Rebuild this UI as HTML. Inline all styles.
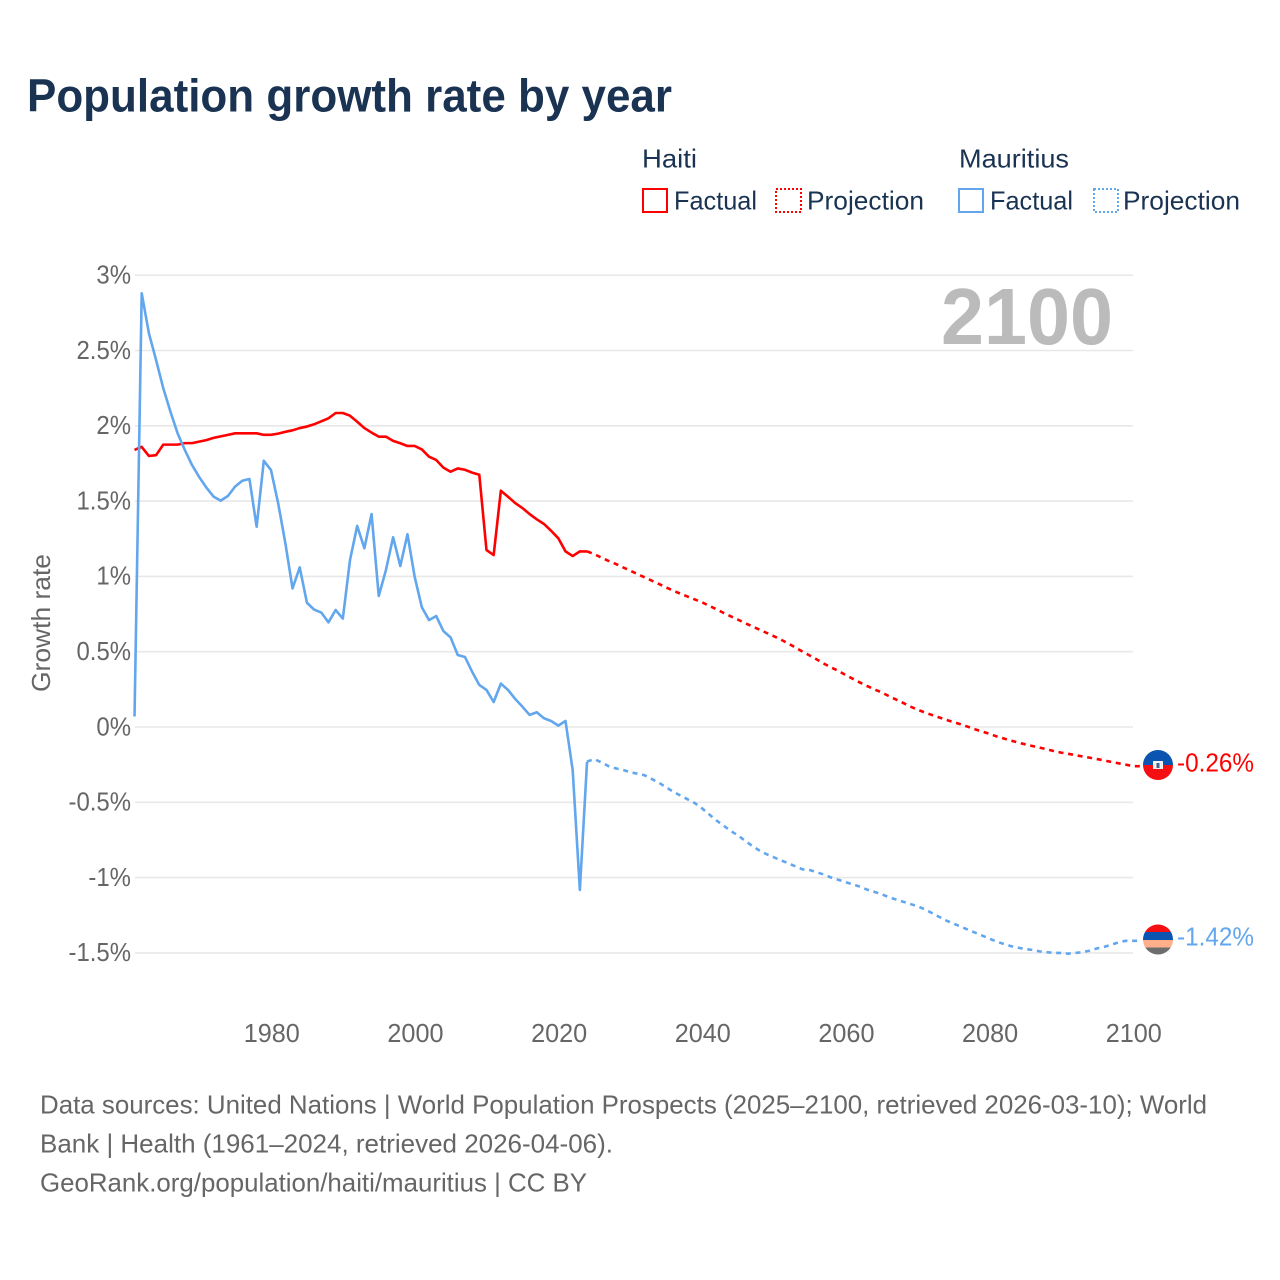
<!DOCTYPE html>
<html lang="en">
<head>
<meta charset="utf-8">
<title>Population growth rate by year</title>
<style>
html,body{margin:0;padding:0;background:#fff;}
svg{display:block;font-family:"Liberation Sans",sans-serif;}
</style>
</head>
<body>
<svg id="chart" xmlns="http://www.w3.org/2000/svg" width="1280" height="1280" viewBox="0 0 1280 1280">
  <rect x="0" y="0" width="1280" height="1280" fill="#fff"/>
  <text x="27" y="111.5" font-size="46" font-weight="700" fill="#1a3352" textLength="645" lengthAdjust="spacingAndGlyphs">Population growth rate by year</text>

  <g font-size="26" fill="#1a3352">
    <text x="642" y="167.5" textLength="55" lengthAdjust="spacingAndGlyphs">Haiti</text>
    <text x="959" y="167.5" textLength="110" lengthAdjust="spacingAndGlyphs">Mauritius</text>
    <rect x="643" y="189" width="24" height="23" fill="none" stroke="#ff0000" stroke-width="2"/>
    <text x="674" y="209.5" textLength="83" lengthAdjust="spacingAndGlyphs">Factual</text>
    <rect x="776" y="189" width="25" height="23" fill="none" stroke="#ff0000" stroke-width="2" stroke-dasharray="2 2"/>
    <text x="807" y="209.5" textLength="117" lengthAdjust="spacingAndGlyphs">Projection</text>
    <rect x="959" y="189" width="24" height="23" fill="none" stroke="#62a6ee" stroke-width="2"/>
    <text x="990" y="209.5" textLength="83" lengthAdjust="spacingAndGlyphs">Factual</text>
    <rect x="1094" y="189" width="24" height="23" fill="none" stroke="#62a6ee" stroke-width="2" stroke-dasharray="2 2"/>
    <text x="1123" y="209.5" textLength="117" lengthAdjust="spacingAndGlyphs">Projection</text>
  </g>

  <g id="grid"></g>
  <g id="yticks" font-size="26" fill="#666" text-anchor="end"></g>
  <g id="xticks" font-size="26" fill="#666" text-anchor="middle"></g>
  <text transform="translate(50,692) rotate(-90)" font-size="26" fill="#666" textLength="138" lengthAdjust="spacingAndGlyphs">Growth rate</text>
  <text x="941" y="344" font-size="80" font-weight="700" fill="#bbbbbb" textLength="172" lengthAdjust="spacingAndGlyphs">2100</text>

  <g id="series"></g>

  <defs>
    <clipPath id="clip-haiti"><circle cx="1158" cy="765" r="15"/></clipPath>
    <clipPath id="clip-mauritius"><circle cx="1158" cy="939.5" r="15"/></clipPath>
  </defs>
  <g id="flag-haiti" clip-path="url(#clip-haiti)">
    <rect x="1143" y="750" width="30" height="15" fill="#0b55b0"/>
    <rect x="1143" y="765" width="30" height="15" fill="#f60f12"/>
    <rect x="1153" y="761" width="10" height="8" fill="#f2f2f2"/>
    <rect x="1156.5" y="763" width="3" height="5" fill="#44628a"/>
  </g>
  <g id="flag-mauritius" clip-path="url(#clip-mauritius)">
    <rect x="1143" y="924" width="30" height="8" fill="#f60f12"/>
    <rect x="1143" y="932" width="30" height="8" fill="#0b55b0"/>
    <rect x="1143" y="940" width="30" height="7.5" fill="#ffb08a"/>
    <rect x="1143" y="947.5" width="30" height="8" fill="#6d6d6d"/>
  </g>
  <text x="1177" y="771.5" font-size="26" fill="#ff0000" textLength="77" lengthAdjust="spacingAndGlyphs">-0.26%</text>
  <text x="1177" y="945.5" font-size="26" fill="#62a6ee" textLength="77" lengthAdjust="spacingAndGlyphs">-1.42%</text>

  <g font-size="26" fill="#666">
    <text x="40" y="1113.5" textLength="1167" lengthAdjust="spacingAndGlyphs">Data sources: United Nations | World Population Prospects (2025–2100, retrieved 2026-03-10); World</text>
    <text x="40" y="1152.5" textLength="573" lengthAdjust="spacingAndGlyphs">Bank | Health (1961–2024, retrieved 2026-04-06).</text>
    <text x="40" y="1191.5" textLength="547" lengthAdjust="spacingAndGlyphs">GeoRank.org/population/haiti/mauritius | CC BY</text>
  </g>
</svg>
<script>
const firstYear = 1961;
const yTicks = [3, 2.5, 2, 1.5, 1, 0.5, 0, -0.5, -1, -1.5];
const yTickLabels = ["3%", "2.5%", "2%", "1.5%", "1%", "0.5%", "0%", "-0.5%", "-1%", "-1.5%"];
const xTicks = [1980, 2000, 2020, 2040, 2060, 2080, 2100];
const haitiFactual = [
  1.84,1.86,1.80,1.805,1.875,1.875,1.875,1.885,1.885,1.895,
  1.905,1.92,1.93,1.94,1.95,1.95,1.95,1.95,1.94,1.94,
  1.948,1.96,1.97,1.985,1.995,2.01,2.03,2.05,2.085,2.085,
  2.067,2.027,1.985,1.955,1.928,1.928,1.90,1.884,1.866,1.866,
  1.843,1.795,1.773,1.722,1.695,1.717,1.708,1.689,1.675,1.175,
  1.142,1.569,1.529,1.487,1.454,1.414,1.379,1.348,1.303,1.253,
  1.166,1.135,1.166,1.166
];
const haitiProjection = [
  1.148,1.125,1.103,1.083,1.06,1.038,1.016,0.994,0.972,0.95,
  0.927,0.905,0.885,0.866,0.847,0.828,0.805,0.782,0.758,0.735,
  0.713,0.69,0.668,0.647,0.625,0.603,0.58,0.555,0.528,0.5,
  0.475,0.448,0.42,0.395,0.372,0.345,0.32,0.295,0.272,0.25,
  0.23,0.206,0.183,0.16,0.136,0.115,0.097,0.08,0.064,0.048,
  0.033,0.018,0.002,-0.015,-0.03,-0.045,-0.062,-0.076,-0.09,-0.103,
  -0.115,-0.126,-0.137,-0.148,-0.16,-0.17,-0.178,-0.187,-0.196,-0.204,
  -0.213,-0.222,-0.232,-0.241,-0.25,-0.26
];
const mauritiusFactual = [
  0.07,2.88,2.615,2.437,2.25,2.094,1.95,1.84,1.74,1.66,
  1.59,1.53,1.503,1.534,1.596,1.635,1.647,1.33,1.768,1.706,
  1.485,1.22,0.92,1.06,0.825,0.78,0.76,0.695,0.777,0.72,
  1.109,1.335,1.187,1.414,0.87,1.042,1.26,1.069,1.28,0.998,
  0.795,0.71,0.737,0.637,0.595,0.478,0.465,0.367,0.279,0.246,
  0.166,0.288,0.246,0.186,0.135,0.08,0.098,0.058,0.04,0.009,
  0.04,-0.286,-1.082,-0.23
];
const mauritiusProjection = [
  -0.213,-0.235,-0.26,-0.275,-0.285,-0.30,-0.31,-0.32,-0.345,-0.37,
  -0.40,-0.43,-0.455,-0.48,-0.505,-0.54,-0.58,-0.62,-0.655,-0.69,
  -0.72,-0.755,-0.79,-0.82,-0.845,-0.865,-0.885,-0.905,-0.925,-0.945,
  -0.95,-0.965,-0.98,-1.0,-1.015,-1.03,-1.045,-1.06,-1.08,-1.095,
  -1.11,-1.13,-1.145,-1.16,-1.175,-1.19,-1.21,-1.235,-1.26,-1.285,
  -1.305,-1.325,-1.345,-1.365,-1.385,-1.405,-1.425,-1.44,-1.455,-1.465,
  -1.475,-1.48,-1.49,-1.495,-1.5,-1.5,-1.505,-1.5,-1.495,-1.485,
  -1.47,-1.46,-1.445,-1.43,-1.42,-1.42
];

const NS = "http://www.w3.org/2000/svg";
function xScale(year) { return 141.7 + (year - 1962) * 7.183; }
function yScale(value) { return 727 - value * 150.6; }

function make(tag, parent) {
  const el = document.createElementNS(NS, tag);
  parent.appendChild(el);
  return el;
}

function linePath(startYear, values) {
  return values.map(function (v, i) {
    return (i ? "L" : "M") + xScale(startYear + i).toFixed(2) + " " + yScale(v).toFixed(2);
  }).join(" ");
}

const grid = document.getElementById("grid");
const yTickGroup = document.getElementById("yticks");
const xTickGroup = document.getElementById("xticks");
const seriesGroup = document.getElementById("series");

yTicks.forEach(function (t, i) {
  const line = make("line", grid);
  
  
  line.setAttribute("x1", 135);
  line.setAttribute("x2", xScale(2100));
  line.setAttribute("y1", yScale(t));
  line.setAttribute("y2", yScale(t));
  line.setAttribute("stroke", "#e8e8e8");
  line.setAttribute("stroke-width", 1.6);

  const label = make("text", yTickGroup);
  
  
  label.setAttribute("x", 131);
  label.setAttribute("y", yScale(t) + 8.3);
  label.textContent = yTickLabels[i];
  label.setAttribute("textLength", (label.getComputedTextLength() * 0.92).toFixed(1));
  label.setAttribute("lengthAdjust", "spacingAndGlyphs");
});

xTicks.forEach(function (t) {
  const label = make("text", xTickGroup);
  
  
  label.setAttribute("x", xScale(t) + 0.8);
  label.setAttribute("y", 1042);
  label.textContent = String(t);
  label.setAttribute("textLength", (label.getComputedTextLength() * 0.97).toFixed(1));
  label.setAttribute("lengthAdjust", "spacingAndGlyphs");
});

function drawSeries(factual, projection, color) {
  const solid = make("path", seriesGroup);
  
  
  solid.setAttribute("d", linePath(firstYear, factual));
  solid.setAttribute("fill", "none");
  solid.setAttribute("stroke", color);
  solid.setAttribute("stroke-width", 2.6);
  solid.setAttribute("stroke-linejoin", "round");

  const lastYear = firstYear + factual.length - 1;
  const dashed = make("path", seriesGroup);
  
  
  const lastValue = projection[projection.length - 1];
  dashed.setAttribute("d",
    linePath(lastYear, [factual[factual.length - 1]].concat(projection)) +
    " L" + (xScale(2100) + 8) + " " + yScale(lastValue).toFixed(2));
  dashed.setAttribute("fill", "none");
  dashed.setAttribute("stroke", color);
  dashed.setAttribute("stroke-width", 2.6);
  dashed.setAttribute("stroke-dasharray", "5 4.7");
}

drawSeries(haitiFactual, haitiProjection, "#ff0000");
drawSeries(mauritiusFactual, mauritiusProjection, "#62a6ee");
</script>
</body>
</html>
